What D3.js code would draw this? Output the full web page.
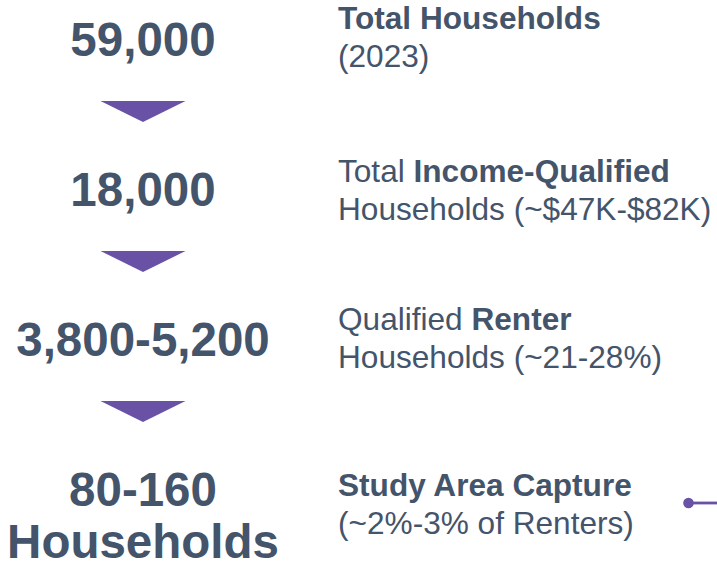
<!DOCTYPE html>
<html>
<head>
<meta charset="utf-8">
<script src="https://cdn.jsdelivr.net/npm/d3@7"></script>
<style>
  html, body { margin: 0; padding: 0; background: #ffffff; }
  svg { display: block; font-family: "Liberation Sans", Arial, sans-serif; }
</style>
</head>
<body>
<svg id="chart" width="717" height="568"></svg>
<script>
// ---- data ----
const steps = ["households", "incomeQualified", "renters", "capture"];
const figures = [["59,000"], ["18,000"], ["3,800-5,200"], ["80-160", "Households"]];
// each description line is a list of [text, bold] segments
const descriptions = [
  [[["Total Households", true]], [["(2023)", false]]],
  [[["Total ", false], ["Income-Qualified", true]], [["Households (~$47K-$82K)", false]]],
  [[["Qualified ", false], ["Renter", true]], [["Households (~21-28%)", false]]],
  [[["Study Area Capture", true]], [["(~2%-3% of Renters)", false]]]
];

// ---- style / layout ----
const textColor = "#44546a";
const purple = "#6952a6";
const W = 717, H = 568;
const svg = d3.select("#chart");

const y = d3.scalePoint().domain(steps).range([56, 506]);   // baseline of each figure
const figX = 143, descX = 338;
const figSize = 47.5, descSize = 31.6, descLine = 37.5, figLine = 52;
const descOffset = [-27, -24, -26, -10];                     // first desc baseline relative to figure baseline

// figures
steps.forEach((s, i) => {
  const t = svg.append("text")
    .attr("x", figX).attr("y", y(s))
    .attr("text-anchor", "middle")
    .attr("font-size", figSize).attr("font-weight", "bold")
    .attr("fill", textColor);
  figures[i].forEach((line, j) => {
    t.append("tspan").attr("x", figX).attr("y", y(s) + j * figLine).text(line);
  });
});

// descriptions
steps.forEach((s, i) => {
  descriptions[i].forEach((line, j) => {
    const t = svg.append("text")
      .attr("x", descX).attr("y", y(s) + descOffset[i] + j * descLine)
      .attr("font-size", descSize).attr("fill", textColor)
      .attr("xml:space", "preserve").style("white-space", "pre");
    line.forEach(([txt, b]) => {
      t.append("tspan").attr("font-weight", b ? "bold" : "normal").text(txt);
    });
  });
});

// arrows between steps
const triW = 85, triH = 21;
d3.pairs(steps).forEach(([a, b]) => {
  const top = (y(a) + y(b)) / 2 - 30;
  svg.append("path")
    .attr("d", d3.line()([[figX - triW / 2, top], [figX + triW / 2, top], [figX, top + triH]]) + "Z")
    .attr("fill", purple);
});

// connector at the last step
const cy = y(steps[3]) - 3;
svg.append("line").attr("x1", 688).attr("x2", W).attr("y1", cy).attr("y2", cy)
  .attr("stroke", purple).attr("stroke-width", 2.8);
svg.append("circle").attr("cx", 688.5).attr("cy", cy).attr("r", 5.3).attr("fill", purple);
</script>
</body>
</html>
